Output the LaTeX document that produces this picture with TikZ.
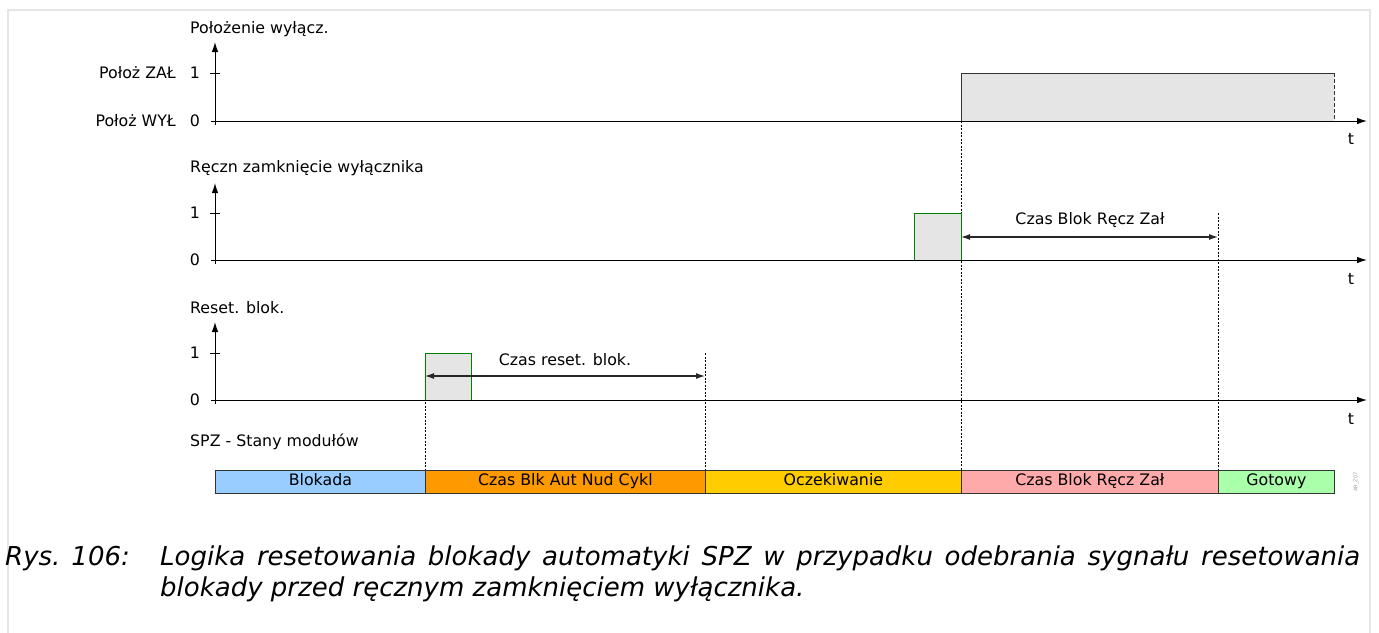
\documentclass[tikz,border=0pt]{standalone}
\usepackage{fontspec}
\setmainfont{DejaVu Sans}
\usetikzlibrary{arrows.meta}
\begin{document}
\begin{tikzpicture}[x=1pt,y=-1pt,
 lbl/.style={font=\fontsize{15.8}{18}\selectfont, inner sep=0pt},
 axisline/.style={line width=1pt, -{Latex[length=10pt,width=6.5pt]}},
 tickline/.style={line width=0.8pt},
 guide/.style={line width=0.5pt, dash pattern=on 2pt off 1.5pt},
 dimline/.style={line width=1.2pt, {Latex[length=9pt,width=6pt]}-{Latex[length=9pt,width=6pt]}, draw=black!85},
 pulse/.style={fill=black!10, draw=green!50!black, line width=0.8pt},
 statebox/.style={draw=black!80, line width=0.8pt, minimum height=23pt, inner sep=0pt, text height=11.5pt, text depth=3pt, anchor=west, font=\fontsize{15.8}{18}\selectfont},
 captext/.style={anchor=base west, inner sep=0pt, font=\fontsize{26}{30}\selectfont\itshape}]
\useasboundingbox (0,0) rectangle (1379,632);
\draw[black!10, line width=1.5pt] (8,645) -- (8,10) -- (1370,10) -- (1370,645);

% ---------- guides
\coordinate (g1a) at (425,353); \coordinate (g1b) at (425,470);
\coordinate (g2a) at (705,353); \coordinate (g2b) at (705,470);
\coordinate (g3a) at (961,121); \coordinate (g3b) at (961,470);
\coordinate (g4a) at (1218,213); \coordinate (g4b) at (1218,470);
\draw[guide] (g1a) -- (g1b);
\draw[guide] (g2a) -- (g2b);
\draw[guide] (g3a) -- (g3b);
\draw[guide] (g4a) -- (g4b);

% ---------- plot 1
\fill[black!10] (961,73) rectangle (1334,121);
\draw[black!80, line width=0.8pt] (961,121) -- (961,73) -- (1334,73);
\draw[black!80, line width=0.8pt, dash pattern=on 4pt off 2pt] (1334,73) -- (1334,121);
\coordinate (x1s) at (211,121); \coordinate (x1e) at (1367,121);
\coordinate (y1s) at (215,125); \coordinate (y1e) at (215,42);
\draw[axisline] (x1s) -- (x1e);
\draw[axisline] (y1s) -- (y1e);
\draw[tickline] (210,73) -- (220,73);
\node[lbl, anchor=west] (title1) at (190,29) {Położenie wyłącz.};
\node[lbl] (one1) at (195,73) {1};
\node[lbl] (zero1) at (195,121) {0};
\node[lbl, anchor=east] (zal) at (176,73) {Położ ZAŁ};
\node[lbl, anchor=east] (wyl) at (176,121) {Położ WYŁ};
\node[lbl] (tlab1) at (1351,139) {t};

% ---------- plot 2
\filldraw[pulse] (914,260) -- (914,213) -- (961,213) -- (961,260);
\coordinate (x2s) at (211,260); \coordinate (x2e) at (1367,260);
\coordinate (y2s) at (215,264); \coordinate (y2e) at (215,183);
\draw[axisline] (x2s) -- (x2e);
\draw[axisline] (y2s) -- (y2e);
\draw[tickline] (210,213) -- (220,213);
\node[lbl, anchor=west] (title2) at (190,168) {Ręczn zamknięcie wyłącznika};
\node[lbl] (one2) at (195,213) {1};
\node[lbl] (zero2) at (195,260) {0};
\node[lbl] (tlab2) at (1351,279) {t};
\coordinate (d2a) at (961,237); \coordinate (d2b) at (1218,237);
\draw[dimline] (d2a) -- (d2b);
\node[lbl] (dim2) at (1090,220) {Czas Blok Ręcz Zał};

% ---------- plot 3
\filldraw[pulse] (425,400) -- (425,353) -- (471,353) -- (471,400);
\coordinate (x3s) at (211,400); \coordinate (x3e) at (1367,400);
\coordinate (y3s) at (215,404); \coordinate (y3e) at (215,322);
\draw[axisline] (x3s) -- (x3e);
\draw[axisline] (y3s) -- (y3e);
\draw[tickline] (210,353) -- (220,353);
\node[lbl, anchor=west] (title3) at (190,308) {Reset. blok.};
\node[lbl] (one3) at (195,353) {1};
\node[lbl] (zero3) at (195,400) {0};
\node[lbl] (tlab3) at (1351,419) {t};
\coordinate (d3a) at (425,376); \coordinate (d3b) at (705,376);
\draw[dimline] (d3a) -- (d3b);
\node[lbl] (dim3) at (565,360) {Czas reset. blok.};

% ---------- states
\node[lbl, anchor=west] (title4) at (190,442) {SPZ - Stany modułów};
\node[statebox, fill={rgb,255:red,153;green,204;blue,255}, minimum width=210pt] (s1) at (215,481.5) {Blokada};
\node[statebox, fill={rgb,255:red,255;green,153;blue,0}, minimum width=280pt] (s2) at (425,481.5) {Czas Blk Aut Nud Cykl};
\node[statebox, fill={rgb,255:red,255;green,204;blue,0}, minimum width=256pt] (s3) at (705,481.5) {Oczekiwanie};
\node[statebox, fill={rgb,255:red,255;green,170;blue,170}, minimum width=257pt] (s4) at (961,481.5) {Czas Blok Ręcz Zał};
\node[statebox, fill={rgb,255:red,170;green,255;blue,170}, minimum width=116pt] (s5) at (1218,481.5) {Gotowy};
\node[rotate=90, text=black!40, font=\fontsize{5}{6}\selectfont, inner sep=0pt] (ref) at (1356,482) {AR\_Z07};

% ---------- caption
\node[captext] (rys) at (5,565) {Rys. 106:};
\node[captext] (cap1) at (160,565) {\makebox[1200pt][s]{Logika resetowania blokady automatyki SPZ w przypadku odebrania sygnału resetowania}};
\node[captext] (cap2) at (160,596) {blokady przed ręcznym zamknięciem wyłącznika.};
\end{tikzpicture}
\end{document}
